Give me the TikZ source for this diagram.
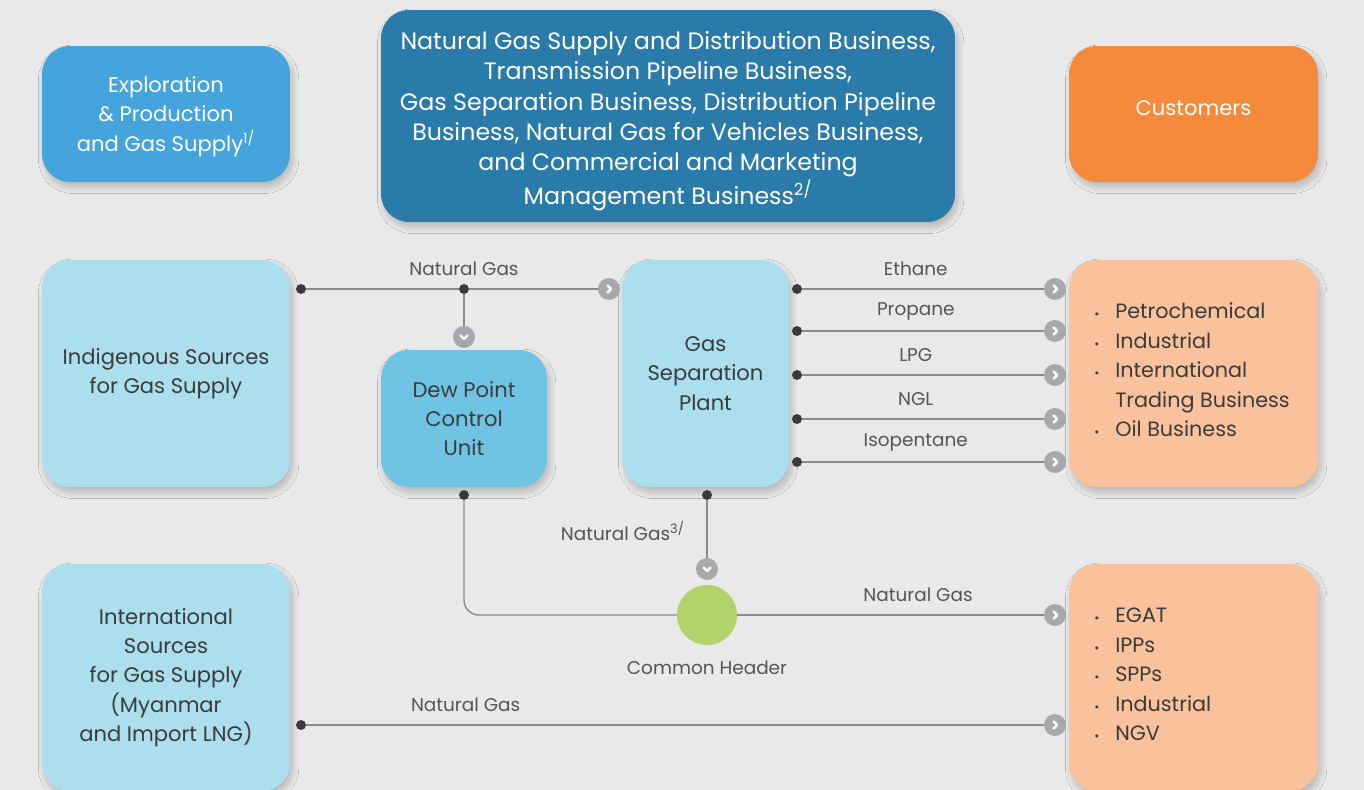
\documentclass[tikz,border=0pt]{standalone}
\usepackage{fontspec}
\setmainfont{Poppins}
\usetikzlibrary{shadows.blur}
\definecolor{bggray}{HTML}{E9E9E9}
\definecolor{explblue}{HTML}{45A4DC}
\definecolor{bizblue}{HTML}{2A7BAA}
\definecolor{custorange}{HTML}{F58A3D}
\definecolor{lightblue}{HTML}{ABDFED}
\definecolor{dewblue}{HTML}{6FC4E4}
\definecolor{peach}{HTML}{F9C29C}
\definecolor{hdrgreen}{HTML}{B0D46A}
\definecolor{linegray}{HTML}{8C8C8C}
\definecolor{circgray}{HTML}{A7A8AB}
\definecolor{dotgray}{HTML}{3A3A3A}
\definecolor{boxtext}{HTML}{3B3B3B}
\definecolor{lbltext}{HTML}{555555}
\begin{document}
\begin{tikzpicture}[x=0.02cm,y=-0.02cm,line join=round,line cap=round,
	box/.style={rounded corners=0.56cm,inner sep=0,align=center,text=boxtext,
		font=\fontsize{12}{16.7}\selectfont,
		blur shadow={shadow blur steps=20,shadow blur radius=3.5pt,shadow xshift=1.5pt,shadow yshift=-3pt,shadow opacity=22}},
	flow/.style={draw=linegray,line width=0.8pt},
	dot/.style={circle,fill=dotgray,minimum size=0.2cm,inner sep=0},
	goright/.style={circle,fill=circgray,minimum size=0.44cm,inner sep=0,
		path picture={\draw[white,line width=1.4pt] ([shift={(-0.03cm,0.07cm)}]path picture bounding box.center) -- ++(0.07cm,-0.07cm) -- ++(-0.07cm,-0.07cm);}},
	godown/.style={circle,fill=circgray,minimum size=0.44cm,inner sep=0,
		path picture={\draw[white,line width=1.4pt] ([shift={(-0.07cm,0.03cm)}]path picture bounding box.center) -- ++(0.07cm,-0.07cm) -- ++(0.07cm,0.07cm);}},
	lbl/.style={text=lbltext,font=\fontsize{10.5}{12}\selectfont},
	lst/.style={text=boxtext,font=\fontsize{11.8}{16.8}\selectfont,inner sep=0}]
	\fill[bggray] (0,0) rectangle (1364,790);
	\useasboundingbox (0,0) rectangle (1364,790);
	% top row
	\node[box,fill=explblue,text=white,minimum width=4.96cm,minimum height=2.72cm] (expl) at (166,114) {\raisebox{-1.2pt}[\height][\depth]{\begin{tabular}{@{}c@{}}Exploration\\ \& Production\\ and Gas Supply\textsuperscript{1/}\end{tabular}}};
	\node[box,fill=bizblue,text=white,minimum width=11.48cm,minimum height=4.24cm,font=\fontsize{13.5}{17.3}\selectfont] (biz) at (668,116) {\raisebox{-2.8pt}[\height][\depth]{\begin{tabular}{@{}c@{}}Natural Gas Supply and Distribution Business,\\ Transmission Pipeline Business,\\ Gas Separation Business, Distribution Pipeline\\ Business, Natural Gas for Vehicles Business,\\ and Commercial and Marketing\\ Management Business\textsuperscript{2/}\end{tabular}}};
	\node[box,fill=custorange,text=white,minimum width=4.98cm,minimum height=2.72cm] (cust) at (1193.5,114) {\raisebox{3.4pt}[\height][\depth]{Customers}};
	% middle row
	\node[box,fill=lightblue,minimum width=4.96cm,minimum height=4.54cm] (indig) at (166,373.5) {Indigenous Sources\\ for Gas Supply};
	\node[box,fill=dewblue,minimum width=3.32cm,minimum height=2.74cm] (dew) at (464,418.5) {Dew Point\\ Control\\ Unit};
	\node[box,fill=lightblue,minimum width=3.34cm,minimum height=4.54cm] (gsp) at (705.5,373.5) {Gas\\ Separation\\ Plant};
	\node[box,fill=peach,minimum width=4.98cm,minimum height=4.54cm] (petro) at (1193.5,373.5) {};
	\node[lst,anchor=west] (petrolist) at (1094,372) {\begin{tabular}{@{}c@{\hspace{9pt}}l@{}}
		{\scriptsize•} & Petrochemical\\ {\scriptsize•} & Industrial\\ {\scriptsize•} & International\\ & Trading Business\\ {\scriptsize•} & Oil Business
	\end{tabular}};
	% bottom row
	\node[box,fill=lightblue,minimum width=4.96cm,minimum height=4.54cm] (intl) at (166,677.5) {International\\ Sources\\ for Gas Supply\\ (Myanmar\\ and Import LNG)};
	\node[box,fill=peach,minimum width=4.98cm,minimum height=4.54cm] (egat) at (1193.5,677.5) {};
	\node[lst,anchor=west] (egatlist) at (1094,676) {\begin{tabular}{@{}c@{\hspace{9pt}}l@{}}
		{\scriptsize•} & EGAT\\ {\scriptsize•} & IPPs\\ {\scriptsize•} & SPPs\\ {\scriptsize•} & Industrial\\ {\scriptsize•} & NGV
	\end{tabular}};
	% natural gas to separation
	\node[dot] (ngA) at (301,289) {};
	\node[dot] (ngB) at (464,289) {};
	\node[goright] (ngC) at (609,289) {};
	\node[godown] (ngD) at (464,337) {};
	\draw[flow] (ngA) -- (ngB) -- (ngC);
	\draw[flow] (ngB) -- (ngD);
	\node[lbl] (nglbl) at (464,269) {Natural Gas};
	% products
	\foreach \y/\t [count=\i] in {289/Ethane,331/Propane,375/LPG,419/NGL,462/Isopentane}{
		\node[dot] (p\i) at (797,\y) {};
		\node[goright] (q\i) at (1055,\y) {};
		\draw[flow] (p\i) -- node[lbl,pos=0.47,yshift=0.4cm] {\t} (q\i);
	}
	% common header
	\node[dot] (dewout) at (464,495) {};
	\node[dot] (gspout) at (707,495) {};
	\node[godown] (gspin) at (707,569) {};
	\node[circle,fill=hdrgreen,minimum size=1.2cm,inner sep=0] (hdr) at (707,615) {};
	\node[goright] (hdrout) at (1055,615) {};
	\draw[flow,rounded corners=0.3cm] (dewout) |- (hdr);
	\draw[flow] (gspout) -- (gspin);
	\draw[flow] (hdr) -- node[lbl,pos=0.59,yshift=0.4cm] {Natural Gas} (hdrout);
	\node[lbl,anchor=east] (ng3lbl) at (691,531) {Natural Gas\textsuperscript{3/}};
	\node[lbl] (hdrlbl) at (707,668) {Common Header};
	% international
	\node[dot] (intA) at (301,725) {};
	\node[goright] (intB) at (1055,725) {};
	\draw[flow] (intA) -- node[lbl,pos=0.216,yshift=0.4cm] {Natural Gas} (intB);
\end{tikzpicture}
\end{document}
